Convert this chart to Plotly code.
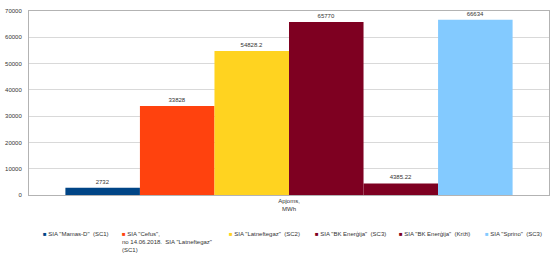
import plotly.graph_objects as go

category = ["Apjoms,<br>MWh"]
series_names = [
    'SIA "Mamas-D"  (SC1)',
    'SIA "Cefus",<br>no 14.06.2018.  SIA "Latneftegaz"<br>(SC1)',
    'SIA "Latneftegaz"  (SC2)',
    'SIA "BK Enerģija"  (SC3)',
    'SIA "BK Enerģija"  (Križi)',
    'SIA "Sprino"  (SC3)',
]
values = [2732, 33828, 54828.2, 65770, 4385.22, 66634]
value_labels = ["2732", "33828", "54828.2", "65770", "4385.22", "66634"]
colors = ["#004586", "#ff420e", "#ffd320", "#7e0021", "#7e0021", "#83caff"]
y_ticks = [0, 10000, 20000, 30000, 40000, 50000, 60000, 70000]
y_tick_labels = ["0", "10000", "20000", "30000", "40000", "50000", "60000", "70000"]

FONT = "Liberation Sans, Arial, sans-serif"
W, H = 555, 255
ML, MR, MT, MB = 29, 6, 11, 60

fig = go.Figure()
for name, v, lab, c in zip(series_names, values, value_labels, colors):
    fig.add_trace(go.Bar(
        x=category, y=[v], name=name.replace("<br>", " "),
        marker=dict(color=c, line=dict(width=0)),
        text=[lab], textposition="outside", cliponaxis=False,
        textfont=dict(size=6, color="#333333", family=FONT),
        showlegend=False,
    ))

# legend drawn as text annotations below the plot
legend_px = [41, 120, 227, 313, 397, 483]
pw = W - ML - MR
ph = H - MT - MB
for name, c, px in zip(series_names, colors, legend_px):
    fig.add_annotation(
        x=(px - ML) / pw, y=(195 - 229) / ph, xref="paper", yref="paper",
        xanchor="left", yanchor="top", align="left", showarrow=False,
        text=f'<span style="color:{c}">■</span> {name}',
        font=dict(size=6, color="#333333", family=FONT),
    )

fig.update_layout(
    width=W, height=H,
    margin=dict(l=ML, r=MR, t=MT, b=MB, autoexpand=False),
    paper_bgcolor="white", plot_bgcolor="white",
    barmode="group", bargap=0.14, bargroupgap=0,
    font=dict(family=FONT, size=6, color="#333333"),
    xaxis=dict(showgrid=False, showline=True, linecolor="#b3b3b3", linewidth=1,
               mirror=True, ticks="", automargin=False,
               tickfont=dict(size=6, color="#333333")),
    yaxis=dict(range=[0, 70000], tickvals=y_ticks, ticktext=y_tick_labels,
               showgrid=True, gridcolor="#d9d9d9", gridwidth=1, showline=True,
               linecolor="#b3b3b3", linewidth=1, mirror=True, ticks="",
               zeroline=False, automargin=False,
               tickfont=dict(size=6, color="#333333"),
               ticklabelstandoff=5),
)

fig.write_html("out.html")
